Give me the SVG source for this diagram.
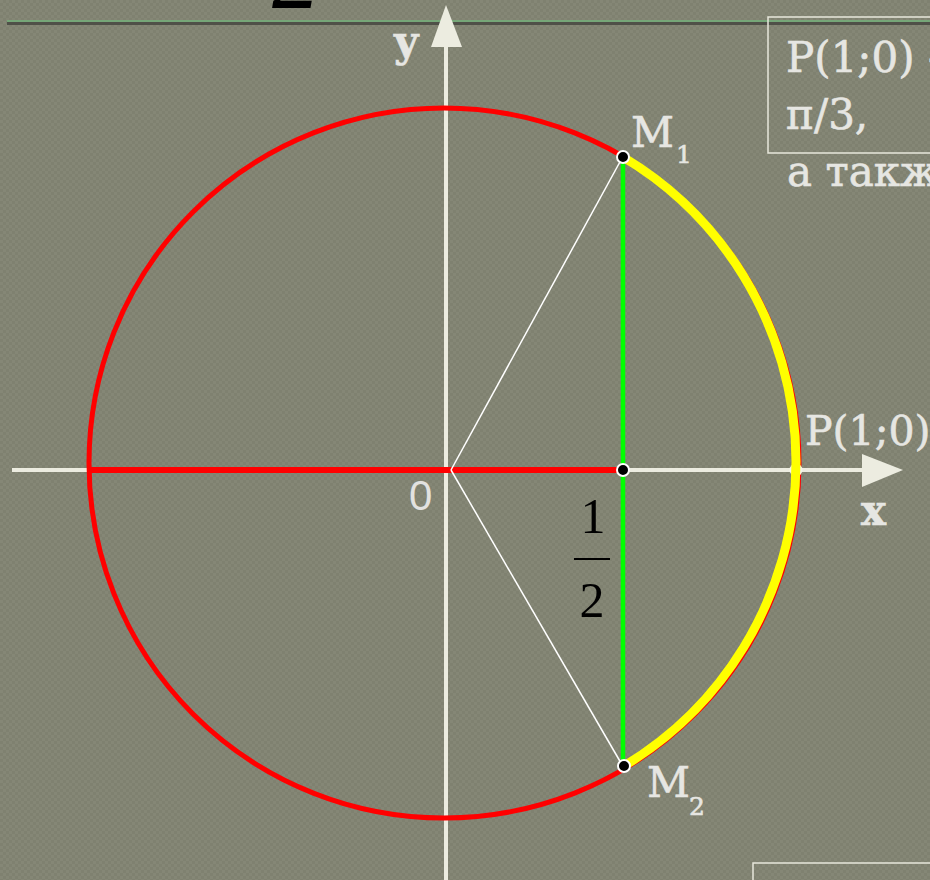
<svg xmlns="http://www.w3.org/2000/svg" width="930" height="880" viewBox="0 0 930 880">
<defs>
<pattern id="tex" width="6" height="6" patternUnits="userSpaceOnUse">
<rect width="6" height="6" fill="#7f8170"/>
<rect width="3" height="3" fill="#858776"/>
<rect x="3" y="3" width="3" height="3" fill="#858776"/>
</pattern>
<style>
.lbl{font-family:"DejaVu Serif","Liberation Serif",serif;fill:#e6e6e2;stroke:#e6e6e2;stroke-width:0.6;}
.axis{stroke:#ecece0;stroke-width:4;fill:none;}
.ahead{fill:#ecece0;}
.dot{fill:#000;stroke:#fff;stroke-width:2;}
.frac{font-family:"Liberation Serif","Times New Roman",serif;fill:#000;font-size:50px;text-anchor:middle;}
.box{fill:none;stroke:#e8e8dc;stroke-width:1.5;}
</style>
</defs>
<rect width="930" height="880" fill="url(#tex)"/>
<g id="header">
<text x="272" y="8" font-family="Liberation Serif, serif" font-style="italic" font-size="96" fill="#000">2</text>
<rect x="7" y="22" width="923" height="3" fill="#4a4a44" opacity="0.9"/>
<rect x="7" y="20" width="923" height="2" fill="#76a678"/>
</g>
<g id="axes">
<line class="axis" x1="12" y1="470" x2="866" y2="470"/>
<polygon class="ahead" points="862,454 903,470 862,487"/>
<line class="axis" x1="446" y1="880" x2="446" y2="45"/>
<polygon class="ahead" points="431,47 446,5 462,47"/>
<text class="lbl" x="394" y="56" font-size="42" font-weight="bold">y</text>
<text class="lbl" x="861" y="525" font-size="42" font-weight="bold">x</text>
<text x="409" y="510" font-family="Liberation Sans, Arial, sans-serif" font-size="42" fill="#e2e2e0">0</text>
</g>
<g id="circle">
<circle cx="444" cy="463" r="355" fill="none" stroke="#ff0000" stroke-width="5"/>
</g>
<g id="connectors">
<line x1="88" y1="470" x2="623" y2="470" stroke="#ff0000" stroke-width="6"/>
<line x1="623" y1="157" x2="623" y2="766" stroke="#00ff00" stroke-width="4.5"/>
<line x1="451" y1="470" x2="621" y2="160" stroke="#ffffff" stroke-width="1.5"/>
<line x1="451" y1="470" x2="621" y2="763" stroke="#ffffff" stroke-width="1.5"/>
</g>
<g id="pointP">
<circle cx="796" cy="470" r="6.5" fill="#f4f4ea"/>
</g>
<g id="arc">
<path d="M 623 157 A 355 355 0 0 1 624 766" fill="none" stroke="#ffff00" stroke-width="9"/>
</g>
<g id="M1">
<circle class="dot" cx="623" cy="157" r="6"/>
<text class="lbl" x="631" y="147" font-size="42">M</text>
<text class="lbl" x="676" y="163" font-size="25">1</text>
</g>
<g id="mid">
<circle class="dot" cx="623" cy="470" r="6"/>
</g>
<g id="M2">
<circle class="dot" cx="624" cy="766" r="6"/>
<text class="lbl" x="647" y="797" font-size="42">M</text>
<text class="lbl" x="689" y="815" font-size="25">2</text>
</g>
<g id="labelP">
<text class="lbl" x="805" y="445" font-size="41">P(1;0)</text>
</g>
<g id="fraction">
<text class="frac" x="593" y="533">1</text>
<line x1="574" y1="559" x2="610" y2="559" stroke="#000" stroke-width="2"/>
<text class="frac" x="592" y="617">2</text>
</g>
<g id="infobox">
<rect class="box" x="768" y="17" width="180" height="136"/>
<text class="lbl" x="786" y="72" font-size="42">P(1;0) -</text>
<text class="lbl" x="786" y="129" font-size="42">п/3,</text>
<text class="lbl" x="787" y="186" font-size="42">а также</text>
</g>
<g id="bottombox">
<rect class="box" x="753" y="863" width="200" height="40" stroke-width="2"/>
</g>
</svg>
